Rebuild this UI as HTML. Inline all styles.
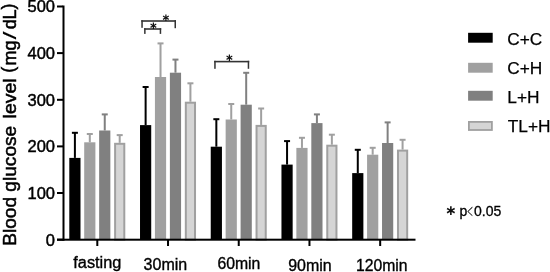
<!DOCTYPE html>
<html><head><meta charset="utf-8"><style>
html,body{margin:0;padding:0;background:#fff;}
svg{display:block;}
.tick{font-family:"Liberation Sans",Arial,sans-serif;font-size:16.5px;fill:#000;stroke:#000;stroke-width:0.45px;}
.xl{font-family:"Liberation Sans",Arial,sans-serif;font-size:16px;fill:#000;stroke:#000;stroke-width:0.35px;}
.lg{font-family:"Liberation Sans",Arial,sans-serif;font-size:17.3px;fill:#000;stroke:#000;stroke-width:0.25px;}
.yl{font-family:"Liberation Sans",Arial,sans-serif;font-size:18px;fill:#000;stroke:#000;stroke-width:0.5px;}
.ast{font-family:"DejaVu Sans",sans-serif;font-size:10.5px;font-weight:bold;fill:#111;}
.note{font-family:"Liberation Sans",Arial,sans-serif;font-size:14px;fill:#000;stroke:#000;stroke-width:0.3px;}
</style></head><body>
<svg width="550" height="272" viewBox="0 0 550 272">
<rect width="550" height="272" fill="#fff"/>
<rect x="73.90" y="132.80" width="2" height="25.10" fill="#000000"/>
<rect x="71.90" y="131.80" width="6" height="2" fill="#000000"/>
<rect x="69.30" y="157.90" width="11.20" height="81.80" fill="#000000"/>
<rect x="88.80" y="134.00" width="2" height="8.30" fill="#a0a0a0"/>
<rect x="86.80" y="133.00" width="6" height="2" fill="#a0a0a0"/>
<rect x="84.20" y="142.30" width="11.20" height="97.40" fill="#a0a0a0"/>
<rect x="103.75" y="114.40" width="2" height="16.10" fill="#808080"/>
<rect x="101.75" y="113.40" width="6" height="2" fill="#808080"/>
<rect x="99.15" y="130.50" width="11.20" height="109.20" fill="#808080"/>
<rect x="118.70" y="135.10" width="2" height="7.70" fill="#a0a0a0"/>
<rect x="116.70" y="134.10" width="6" height="2" fill="#a0a0a0"/>
<rect x="115.10" y="143.80" width="9.20" height="95.90" fill="#d5d5d5" stroke="#a0a0a0" stroke-width="2"/>
<rect x="144.62" y="87.00" width="2" height="38.10" fill="#000000"/>
<rect x="142.62" y="86.00" width="6" height="2" fill="#000000"/>
<rect x="140.02" y="125.10" width="11.20" height="114.60" fill="#000000"/>
<rect x="159.52" y="43.40" width="2" height="33.60" fill="#a0a0a0"/>
<rect x="157.52" y="42.40" width="6" height="2" fill="#a0a0a0"/>
<rect x="154.92" y="77.00" width="11.20" height="162.70" fill="#a0a0a0"/>
<rect x="174.47" y="59.60" width="2" height="13.10" fill="#808080"/>
<rect x="172.47" y="58.60" width="6" height="2" fill="#808080"/>
<rect x="169.87" y="72.70" width="11.20" height="167.00" fill="#808080"/>
<rect x="189.42" y="83.30" width="2" height="18.40" fill="#a0a0a0"/>
<rect x="187.42" y="82.30" width="6" height="2" fill="#a0a0a0"/>
<rect x="185.82" y="102.70" width="9.20" height="137.00" fill="#d5d5d5" stroke="#a0a0a0" stroke-width="2"/>
<rect x="215.34" y="119.20" width="2" height="27.50" fill="#000000"/>
<rect x="213.34" y="118.20" width="6" height="2" fill="#000000"/>
<rect x="210.74" y="146.70" width="11.20" height="93.00" fill="#000000"/>
<rect x="230.24" y="104.00" width="2" height="15.50" fill="#a0a0a0"/>
<rect x="228.24" y="103.00" width="6" height="2" fill="#a0a0a0"/>
<rect x="225.64" y="119.50" width="11.20" height="120.20" fill="#a0a0a0"/>
<rect x="245.19" y="72.80" width="2" height="31.90" fill="#808080"/>
<rect x="243.19" y="71.80" width="6" height="2" fill="#808080"/>
<rect x="240.59" y="104.70" width="11.20" height="135.00" fill="#808080"/>
<rect x="260.14" y="108.50" width="2" height="16.40" fill="#a0a0a0"/>
<rect x="258.14" y="107.50" width="6" height="2" fill="#a0a0a0"/>
<rect x="256.54" y="125.90" width="9.20" height="113.80" fill="#d5d5d5" stroke="#a0a0a0" stroke-width="2"/>
<rect x="286.06" y="141.10" width="2" height="23.50" fill="#000000"/>
<rect x="284.06" y="140.10" width="6" height="2" fill="#000000"/>
<rect x="281.46" y="164.60" width="11.20" height="75.10" fill="#000000"/>
<rect x="300.96" y="137.80" width="2" height="10.10" fill="#a0a0a0"/>
<rect x="298.96" y="136.80" width="6" height="2" fill="#a0a0a0"/>
<rect x="296.36" y="147.90" width="11.20" height="91.80" fill="#a0a0a0"/>
<rect x="315.91" y="114.40" width="2" height="8.70" fill="#808080"/>
<rect x="313.91" y="113.40" width="6" height="2" fill="#808080"/>
<rect x="311.31" y="123.10" width="11.20" height="116.60" fill="#808080"/>
<rect x="330.86" y="134.70" width="2" height="10.00" fill="#a0a0a0"/>
<rect x="328.86" y="133.70" width="6" height="2" fill="#a0a0a0"/>
<rect x="327.26" y="145.70" width="9.20" height="94.00" fill="#d5d5d5" stroke="#a0a0a0" stroke-width="2"/>
<rect x="356.78" y="149.80" width="2" height="23.30" fill="#000000"/>
<rect x="354.78" y="148.80" width="6" height="2" fill="#000000"/>
<rect x="352.18" y="173.10" width="11.20" height="66.60" fill="#000000"/>
<rect x="371.68" y="147.80" width="2" height="6.90" fill="#a0a0a0"/>
<rect x="369.68" y="146.80" width="6" height="2" fill="#a0a0a0"/>
<rect x="367.08" y="154.70" width="11.20" height="85.00" fill="#a0a0a0"/>
<rect x="386.63" y="122.40" width="2" height="20.60" fill="#808080"/>
<rect x="384.63" y="121.40" width="6" height="2" fill="#808080"/>
<rect x="382.03" y="143.00" width="11.20" height="96.70" fill="#808080"/>
<rect x="401.58" y="139.80" width="2" height="9.80" fill="#a0a0a0"/>
<rect x="399.58" y="138.80" width="6" height="2" fill="#a0a0a0"/>
<rect x="397.98" y="150.60" width="9.20" height="89.10" fill="#d5d5d5" stroke="#a0a0a0" stroke-width="2"/>
<rect x="62.5" y="5.5" width="2" height="235.3" fill="#000"/>
<rect x="57" y="238.7" width="358.5" height="2" fill="#000"/>
<rect x="57" y="5.50" width="6" height="2" fill="#000"/>
<text x="55" y="12.40" text-anchor="end" class="tick">500</text>
<rect x="57" y="52.10" width="6" height="2" fill="#000"/>
<text x="55" y="59.00" text-anchor="end" class="tick">400</text>
<rect x="57" y="98.80" width="6" height="2" fill="#000"/>
<text x="55" y="105.70" text-anchor="end" class="tick">300</text>
<rect x="57" y="145.40" width="6" height="2" fill="#000"/>
<text x="55" y="152.30" text-anchor="end" class="tick">200</text>
<rect x="57" y="192.00" width="6" height="2" fill="#000"/>
<text x="55" y="198.90" text-anchor="end" class="tick">100</text>
<rect x="57" y="238.70" width="6" height="2" fill="#000"/>
<text x="55" y="245.60" text-anchor="end" class="tick">0</text>
<rect x="96.30" y="239.7" width="2" height="6.3" fill="#000"/>
<rect x="167.02" y="239.7" width="2" height="6.3" fill="#000"/>
<rect x="237.74" y="239.7" width="2" height="6.3" fill="#000"/>
<rect x="308.46" y="239.7" width="2" height="6.3" fill="#000"/>
<rect x="379.18" y="239.7" width="2" height="6.3" fill="#000"/>
<g fill="#333">
<rect x="141.3" y="20.2" width="34.7" height="1.6"/>
<rect x="141.3" y="20.2" width="1.5" height="7.6"/>
<rect x="174.5" y="20.2" width="1.5" height="8"/>
<rect x="144.1" y="28.2" width="17.1" height="1.6"/>
<rect x="144.1" y="28.2" width="1.5" height="5.7"/>
<rect x="159.7" y="28.2" width="1.5" height="5.7"/>
<rect x="214.2" y="60.8" width="35" height="1.6"/>
<rect x="214.2" y="60.8" width="1.5" height="8"/>
<rect x="247.7" y="60.8" width="1.5" height="8"/>
</g>
<text class="ast" x="153.3" y="28.6" text-anchor="middle">&#8727;</text>
<text class="ast" x="166" y="20.6" text-anchor="middle">&#8727;</text>
<text class="ast" x="229.5" y="60.7" text-anchor="middle">&#8727;</text>
<text class="xl" x="73.3" y="267.5" textLength="48" lengthAdjust="spacingAndGlyphs">fasting</text>
<text class="xl" x="143.6" y="269.7" textLength="43.6" lengthAdjust="spacingAndGlyphs">30min</text>
<text class="xl" x="217.4" y="269.3" textLength="43" lengthAdjust="spacingAndGlyphs">60min</text>
<text class="xl" x="288.2" y="271.1" textLength="43.5" lengthAdjust="spacingAndGlyphs">90min</text>
<text class="xl" x="356" y="270.8" textLength="51.5" lengthAdjust="spacingAndGlyphs">120min</text>
<g transform="translate(16.2,245.8) rotate(-90)"><text class="yl" x="0" y="0" textLength="120" lengthAdjust="spacingAndGlyphs">Blood glucose</text><text class="yl" x="127.4" y="0" textLength="40" lengthAdjust="spacingAndGlyphs">level</text><text class="yl" x="173" y="-2">(</text><text class="yl" x="180.3 195.4" y="0">mg</text><text class="yl" transform="translate(210.2,0) scale(1.6,1)" x="0" y="0" text-anchor="middle" style="stroke-width:0.15px">/</text><text class="yl" x="216.5 226.3" y="0">dL</text><text class="yl" x="236.3" y="-2">)</text></g>
<rect x="468.1" y="32.8" width="24.6" height="9.9" fill="#000"/>
<rect x="468.1" y="62.8" width="24.6" height="9.9" fill="#a0a0a0"/>
<rect x="468.1" y="90.8" width="24.6" height="9.9" fill="#808080"/>
<rect x="468.9" y="121.9" width="23" height="8.1" fill="#d5d5d5" stroke="#a0a0a0" stroke-width="1.8"/>
<text class="lg" x="507.3" y="44.8">C+C</text>
<text class="lg" x="507.3" y="74.1">C+H</text>
<text class="lg" x="507.3" y="103.1">L+H</text>
<text class="lg" x="507.8" y="132.4">TL+H</text>
<text class="ast" x="450.8" y="215.3" text-anchor="middle" style="font-size:14px">&#8727;</text>
<text class="note" x="459.5" y="215.9">p</text>
<text x="467" y="215.8" style="font-family:IPAGothic,sans-serif;font-size:12px">&lt;</text>
<text class="note" x="474" y="215.9">0.05</text>
</svg>
</body></html>
